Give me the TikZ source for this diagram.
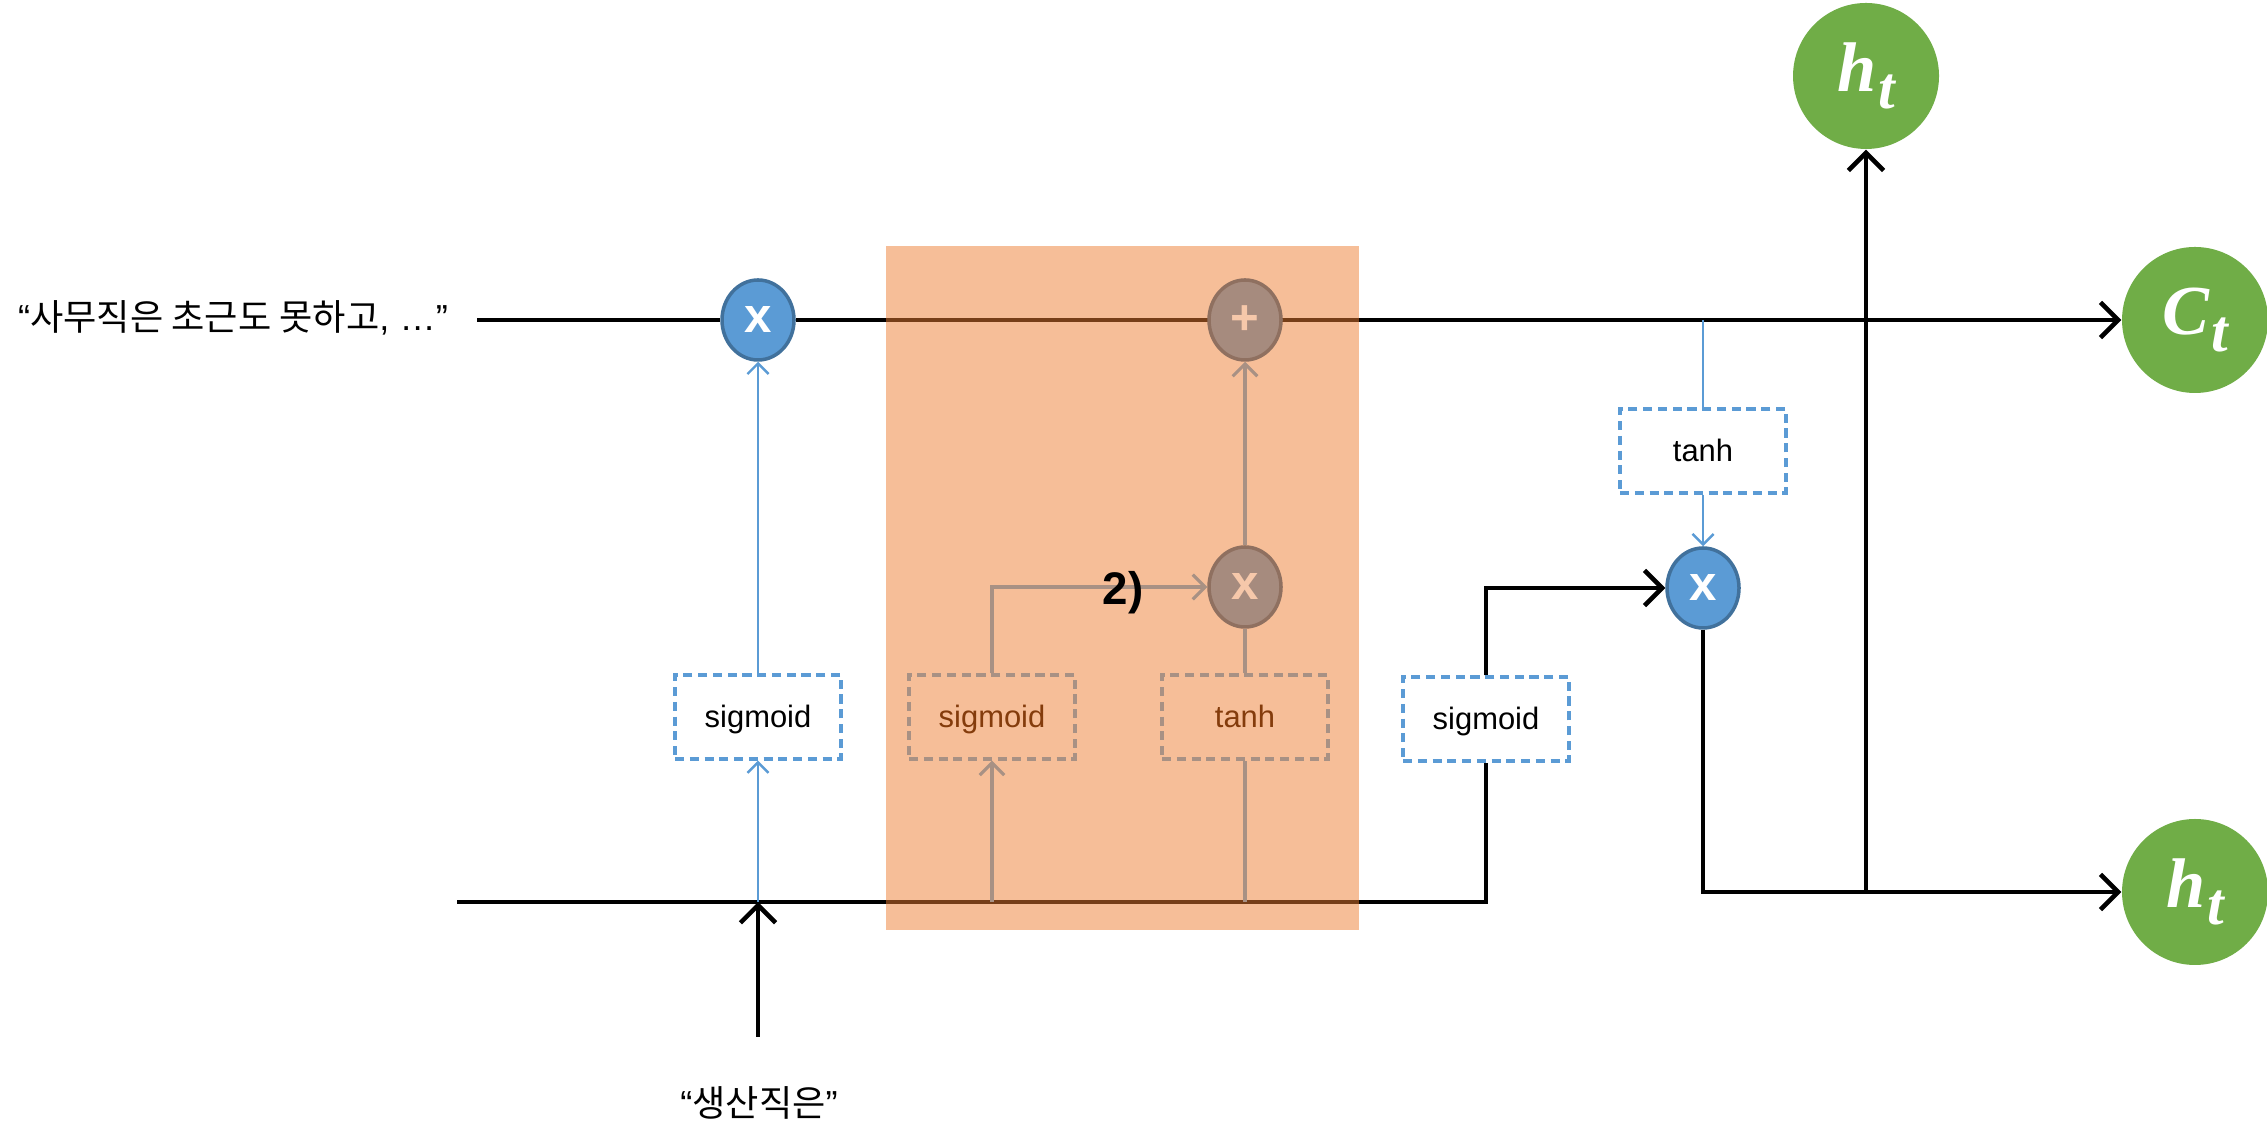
\documentclass[tikz,border=0pt]{standalone}
\usepackage{fontspec}
\setmainfont{Liberation Sans}
\newfontfamily\krfont{Noto Sans CJK KR}
\newfontfamily\outfont{Liberation Serif}
\usetikzlibrary{arrows.meta, shapes.geometric}
\definecolor{cblue}{RGB}{91,155,213}
\definecolor{cblueD}{RGB}{65,113,156}
\definecolor{cgreen}{RGB}{112,173,71}
\definecolor{corange}{RGB}{237,125,49}
\definecolor{gfill}{RGB}{166,139,126}
\definecolor{gedge}{RGB}{143,112,96}
\definecolor{gline}{RGB}{168,145,132}
\definecolor{gtext}{RGB}{132,60,12}
\definecolor{gsym}{RGB}{246,200,170}
\newcommand{\outsym}[2]{#1\kern0.03em\raisebox{-0.55ex}{\fontsize{17}{17}\selectfont #2}}

\begin{document}
\begin{tikzpicture}[
    >={Straight Barb[length=5pt,width=10pt]},
    flow/.style={draw=black, line width=1.3pt},
    bflow/.style={draw=cblue, line width=0.7pt, >={Straight Barb[length=3pt,width=6pt]}},
    gflow/.style={draw=gline, line width=0.9pt, >={Straight Barb[length=3.5pt,width=7pt]}},
    op/.style={ellipse, minimum width=0.72cm, minimum height=0.8cm, inner sep=0pt, line width=1pt, font=\fontsize{14}{14}\bfseries},
    bop/.style={op, draw=cblueD, fill=cblue, text=white},
    gop/.style={op, draw=gedge, fill=gfill, text=gsym},
    gatebox/.style={draw, dash pattern=on 2.6pt off 1.6pt, line width=0.9pt, minimum width=1.66cm, minimum height=0.84cm, text depth=0.1ex, font=\fontsize{8.8}{10}\selectfont},
    bbox/.style={gatebox, draw=cblue, fill=white},
    gbox/.style={gatebox, draw=gline, text=gtext},
    outnode/.style={circle, fill=cgreen, minimum size=1.46cm, inner sep=0pt, text=white, font=\outfont\fontsize{20}{20}\selectfont\bfseries\itshape},
    word/.style={font=\fontsize{10.3}{12}\selectfont}
  ]
  \useasboundingbox (0,0) rectangle (22.67,11.41);

  % cell state and inputs
  \node[word] (lblC) at (2.33, 8.23) {“{\krfont 사무직은 초근도 못하고}, …”};
  \node[word] (lblX) at (7.59, 0.38) {“{\krfont 생산직은}”};
  \coordinate (cin) at (4.77, 8.21);
  \coordinate (hin) at (4.57, 2.39);
  \coordinate (xin) at (7.58, 1.04);
  \coordinate (jf) at (7.58, 2.39);
  \coordinate (ji) at (9.92, 2.39);
  \coordinate (jt) at (12.45, 2.39);
  \coordinate (jso) at (14.86, 2.39);
  \coordinate (csplit) at (17.03, 8.21);
  \coordinate (hsplit) at (18.66, 2.49);

  \node[bop] (fx) at (7.58, 8.21) {x};
  \node[bbox] (sf) at (7.58, 4.24) {sigmoid};
  \node[bbox] (so) at (14.86, 4.22) {sigmoid};
  \node[bbox] (tho) at (17.03, 6.90) {tanh};
  \node[bop] (mo) at (17.03, 5.53) {x};
  \node[outnode] (ct) at (21.95, 8.21) {\outsym{C}{t}};
  \node[outnode] (ht1) at (18.66, 10.65) {\outsym{h}{t}};
  \node[outnode] (ht2) at (21.95, 2.49) {\outsym{h}{t}};

  \draw[flow] (cin) -- (fx);
  \draw[flow, ->] (fx) -- (ct);
  \draw[flow] (hin) -- (jso) -- (so.south);
  \draw[flow, ->] (so.north) |- (mo);
  \draw[flow] (mo.south) |- (hsplit);
  \draw[flow, ->] (hsplit) -- (ht2);
  \draw[flow, ->] (hsplit) -- (ht1);
  \draw[flow, ->] (xin) -- (jf);

  \draw[bflow, ->] (jf) -- (sf);
  \draw[bflow, ->] (sf) -- (fx);
  \draw[bflow] (csplit) -- (tho);
  \draw[bflow, ->] (tho) -- (mo);

  % input gate, shaded
  \fill[corange, opacity=0.5] (8.86, 2.11) rectangle (13.59, 8.95);

  \node[gop] (add) at (12.45, 8.21) {+};
  \node[gop] (mi) at (12.45, 5.54) {x};
  \node[gbox] (si) at (9.92, 4.24) {sigmoid};
  \node[gbox] (tc) at (12.45, 4.24) {tanh};
  \draw[gflow, ->] (ji) -- (si);
  \draw[gflow, ->] (si.north) |- (mi);
  \draw[gflow] (jt) -- (tc);
  \draw[gflow] (tc) -- (mi);
  \draw[gflow, ->] (mi) -- (add);
  \node[font=\fontsize{13}{13}\bfseries] (two) at (11.23, 5.48) {2)};
\end{tikzpicture}
\end{document}
